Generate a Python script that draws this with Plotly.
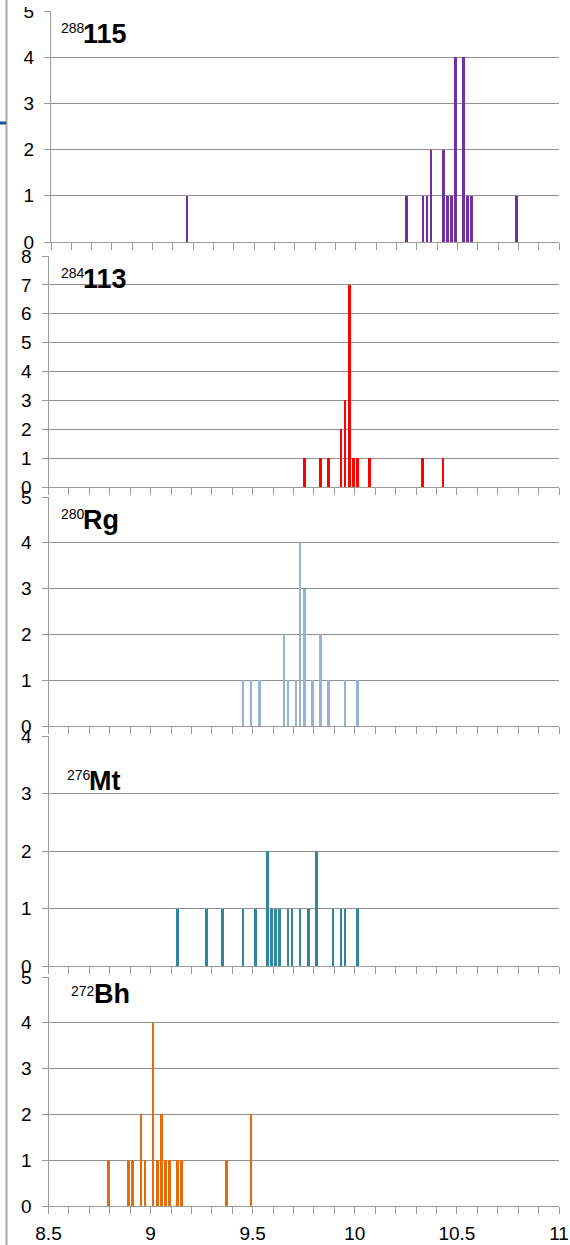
import plotly.graph_objects as go

# ---------------- data ----------------
e_115 = [9.17, 10.25, 10.33, 10.35, 10.37, 10.43, 10.45, 10.47, 10.49, 10.53, 10.55, 10.57, 10.79]
n_115 = [1, 1, 1, 1, 2, 2, 1, 1, 4, 4, 1, 1, 1]

e_113 = [9.75, 9.83, 9.87, 9.93, 9.95, 9.97, 9.99, 10.01, 10.07, 10.33, 10.43]
n_113 = [1, 1, 1, 2, 3, 7, 1, 1, 1, 1, 1]

e_rg = [9.45, 9.49, 9.53, 9.65, 9.67, 9.71, 9.73, 9.75, 9.79, 9.83, 9.87, 9.95, 10.01]
n_rg = [1, 1, 1, 2, 1, 1, 4, 3, 1, 2, 1, 1, 1]

e_mt = [9.13, 9.27, 9.35, 9.45, 9.51, 9.57, 9.59, 9.61, 9.63, 9.67, 9.69, 9.73, 9.77, 9.81, 9.89, 9.93, 9.95, 10.01]
n_mt = [1, 1, 1, 1, 1, 2, 1, 1, 1, 1, 1, 1, 1, 2, 1, 1, 1, 1]

e_bh = [8.79, 8.89, 8.91, 8.95, 8.97, 9.01, 9.03, 9.05, 9.07, 9.09, 9.13, 9.15, 9.37, 9.49]
n_bh = [1, 1, 1, 2, 1, 4, 1, 2, 1, 1, 1, 1, 1, 2]

mass_numbers = ["288", "284", "280", "276", "272"]
nuclide_names = ["115", "113", "Rg", "Mt", "Bh"]
y_max = [5, 8, 5, 4, 5]
x_tick_vals = [8.5, 9, 9.5, 10, 10.5, 11]
x_tick_labels = ["8.5", "9", "9.5", "10", "10.5", "11"]

energies = [e_115, e_113, e_rg, e_mt, e_bh]
counts = [n_115, n_113, n_rg, n_mt, n_bh]
colors = ["#7030A0", "#FF0000", "#95B3D7", "#31859C", "#E46C0A"]

# ---------------- layout geometry (pixels) ----------------
W, H = 570, 1245
panel_px = [(11, 242), (256, 487), (497, 726), (736, 966), (977, 1206)]
left_px = [51, 48.5, 48.5, 48.5, 48.5]
right_px = 559
label_pos = [  # (sup_x, main_x, sup_center_y, main_center_y)
    (59, 81, 28, 34),
    (59, 81, 273, 279),
    (59, 81, 514, 520),
    (65, 87, 775, 781),
    (69, 92, 991, 994),
]

FONT = "Liberation Sans, Arial, sans-serif"
GRID = "#8f8f8f"
AX = "#9a9a9a"

def px_y(p):
    return 1 - p / H

def px_x(p):
    return p / W

fig = go.Figure()
layout = dict(
    template="none",
    width=W, height=H,
    margin=dict(l=0, r=0, t=0, b=0, pad=0),
    paper_bgcolor="white", plot_bgcolor="white",
    showlegend=False,
    bargap=0,
    font=dict(family=FONT, color="#000000"),
)

annotations = []
for i in range(5):
    k = "" if i == 0 else str(i + 1)
    fig.add_trace(go.Bar(
        x=energies[i], y=counts[i], width=0.013,
        marker=dict(color=colors[i], line=dict(width=0)),
        xaxis="x" + k, yaxis="y" + k,
    ))
    top, bot = panel_px[i]
    last = (i == 4)
    layout["xaxis" + k] = dict(
        domain=[px_x(left_px[i]), px_x(right_px)],
        range=[8.5, 11], anchor="y" + k,
        automargin=False,
        tickmode="array", tickvals=x_tick_vals, ticktext=x_tick_labels,
        showticklabels=last,
        ticks="outside", ticklen=7, tickcolor=AX, tickwidth=1,
        minor=dict(dtick=0.1, ticks="outside", ticklen=7, tickcolor=AX, tickwidth=1, showgrid=False),
        showline=True, linecolor=AX, linewidth=1,
        showgrid=False, zeroline=False,
        tickfont=dict(size=19, family=FONT, color="#000"),
        ticklabelstandoff=3,
        fixedrange=True,
    )
    layout["yaxis" + k] = dict(
        domain=[px_y(bot), px_y(top)],
        range=[0, y_max[i]], anchor="x" + k,
        automargin=False,
        dtick=1, tick0=0,
        ticks="outside", ticklen=6, tickcolor=AX,
        showline=True, linecolor=AX, linewidth=1,
        showgrid=True, gridcolor=GRID, gridwidth=1,
        zeroline=False,
        tickfont=dict(size=19, family=FONT, color="#000"),
        ticklabelstandoff=6,
        fixedrange=True,
    )
    sx, mx, sy, my = label_pos[i]
    annotations.append(dict(
        xref="paper", yref="paper", x=px_x(sx), y=px_y(sy),
        xanchor="left", yanchor="middle", showarrow=False,
        text=mass_numbers[i], font=dict(size=14, family=FONT, color="#000"),
    ))
    annotations.append(dict(
        xref="paper", yref="paper", x=px_x(mx), y=px_y(my),
        xanchor="left", yanchor="middle", showarrow=False,
        text="<b>" + nuclide_names[i] + "</b>", font=dict(size=27, family=FONT, color="#000"),
    ))

layout["annotations"] = annotations
layout["shapes"] = [
    dict(type="line", xref="paper", yref="paper", x0=px_x(6.5), x1=px_x(6.5), y0=0, y1=1,
         line=dict(color="#a8a8a8", width=2)),
    dict(type="line", xref="paper", yref="paper", x0=0, x1=px_x(6), y0=px_y(123), y1=px_y(123),
         line=dict(color="#1F4E9A", width=3)),
    # the top of the first "5" label is hidden in the reference
    dict(type="rect", xref="paper", yref="paper", x0=px_x(14), x1=px_x(46), y0=px_y(7), y1=1,
         fillcolor="white", line=dict(width=0), layer="above"),
]
fig.update_layout(**layout)
fig.write_html("out.html", config={"displayModeBar": False},
               post_script="document.body.style.margin='0px';document.body.style.overflow='hidden';")
